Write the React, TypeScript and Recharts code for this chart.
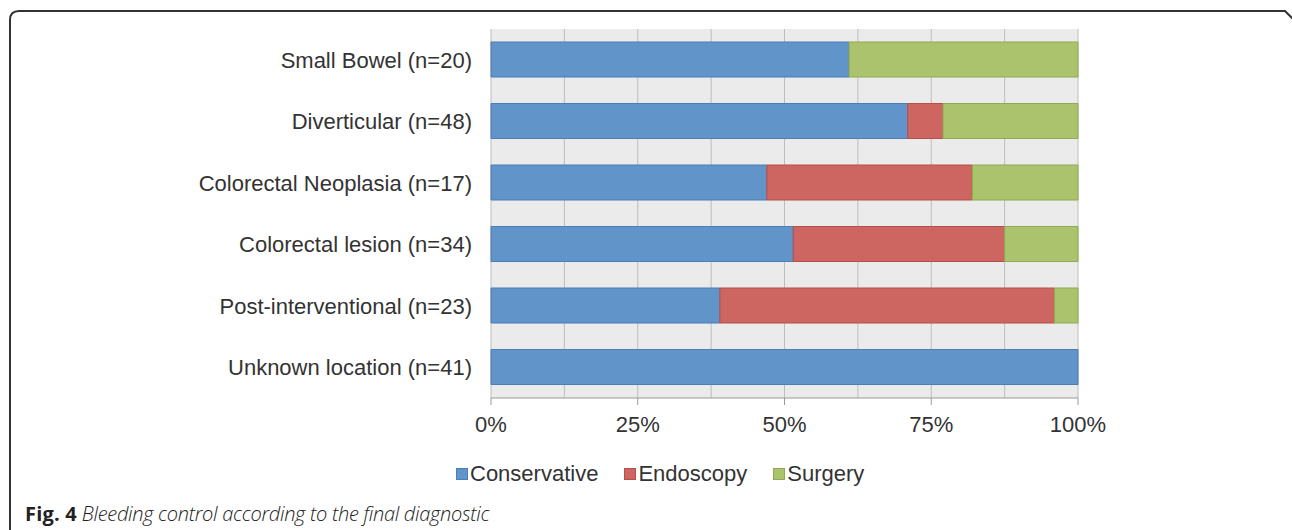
import React from "react";
import { BarChart, Bar, XAxis, YAxis, CartesianGrid } from "recharts";

const categories = [
  "Small Bowel (n=20)",
  "Diverticular (n=48)",
  "Colorectal Neoplasia (n=17)",
  "Colorectal lesion (n=34)",
  "Post-interventional (n=23)",
  "Unknown location (n=41)",
];
const conservative = [61, 71, 47, 51.5, 39, 100];
const endoscopy = [0, 6, 35, 36, 57, 0];
const surgery = [39, 23, 18, 12.5, 4, 0];
const xTicks = [0, 12.5, 25, 37.5, 50, 62.5, 75, 87.5, 100];

const series = [
  { key: "Conservative", values: conservative, fill: "#6194c9", stroke: "#4b7db6" },
  { key: "Endoscopy", values: endoscopy, fill: "#cd6561", stroke: "#b54f4b" },
  { key: "Surgery", values: surgery, fill: "#abc36d", stroke: "#8dab52" },
];

const rows = categories.map((name, i) => {
  const row: Record<string, string | number> = { name };
  series.forEach((s) => (row[s.key] = s.values[i]));
  return row;
});

const FONT = "'Liberation Sans', Arial, sans-serif";

function XTick(props: any) {
  const { x, y, payload } = props;
  const major = payload.value % 25 === 0;
  if (!major) return null;
  return (
    <g>
      <line x1={x} x2={x} y1={y} y2={y + 7} stroke="#999" />
      <text x={x} y={y + 34} textAnchor="middle" fontSize={22} fill="#333" fontFamily={FONT}>
        {payload.value}%
      </text>
    </g>
  );
}

export default function App() {
  return (
    <div style={{ position: "absolute", left: 0, top: 0, width: 1292, height: 530, background: "#fff", overflow: "hidden" }}>
      <svg width={1292} height={530} style={{ position: "absolute", left: 0, top: 0 }}>
        <path d="M 10 540 L 10 20 Q 10 11 19 11 L 1285 11 L 1296 22" fill="none" stroke="#333" strokeWidth={2} />
      </svg>
      <div style={{ position: "absolute", left: 0, top: 0 }}>
        <BarChart
          width={1292}
          height={440}
          data={rows}
          layout="vertical"
          margin={{ top: 29, right: 214, left: 0, bottom: 0 }}
          barSize={35}
        >
          <CartesianGrid horizontal={false} stroke="#bdbdbd" fill="#ebebeb" />
          <XAxis
            type="number"
            domain={[0, 100]}
            ticks={xTicks}
            interval={0}
            tick={<XTick />}
            tickLine={false}
            tickSize={0}
            tickMargin={0}
            axisLine={{ stroke: "#999" }}
            height={42}
          />
          <YAxis
            type="category"
            dataKey="name"
            width={491}
            axisLine={false}
            tickLine={false}
            tickSize={0}
            tickMargin={19}
            tick={{ fontSize: 22, fill: "#333", fontFamily: FONT }}
          />
          {series.map((s) => (
            <Bar
              key={s.key}
              dataKey={s.key}
              stackId="a"
              fill={s.fill}
              stroke={s.stroke}
              strokeWidth={1}
              isAnimationActive={false}
            />
          ))}
        </BarChart>
      </div>
      <div style={{ position: "absolute", left: 456, top: 461, display: "flex", fontFamily: FONT, fontSize: 22, color: "#333" }}>
        {series.map((s) => (
          <div key={s.key} style={{ display: "flex", alignItems: "center", marginRight: 26 }}>
            <span style={{ width: 10, height: 10, background: s.fill, border: `1px solid ${s.stroke}`, marginRight: 2 }} />
            <span>{s.key}</span>
          </div>
        ))}
      </div>
      <div style={{ position: "absolute", left: 25, top: 500, fontFamily: "'Open Sans', sans-serif", fontSize: 20, color: "#222", whiteSpace: "nowrap", letterSpacing: -0.3 }}>
        <b style={{ letterSpacing: 0.2 }}>Fig. 4</b>{" "}
        <i style={{ fontWeight: 300 }}>Bleeding control according to the final diagnostic</i>
      </div>
    </div>
  );
}
